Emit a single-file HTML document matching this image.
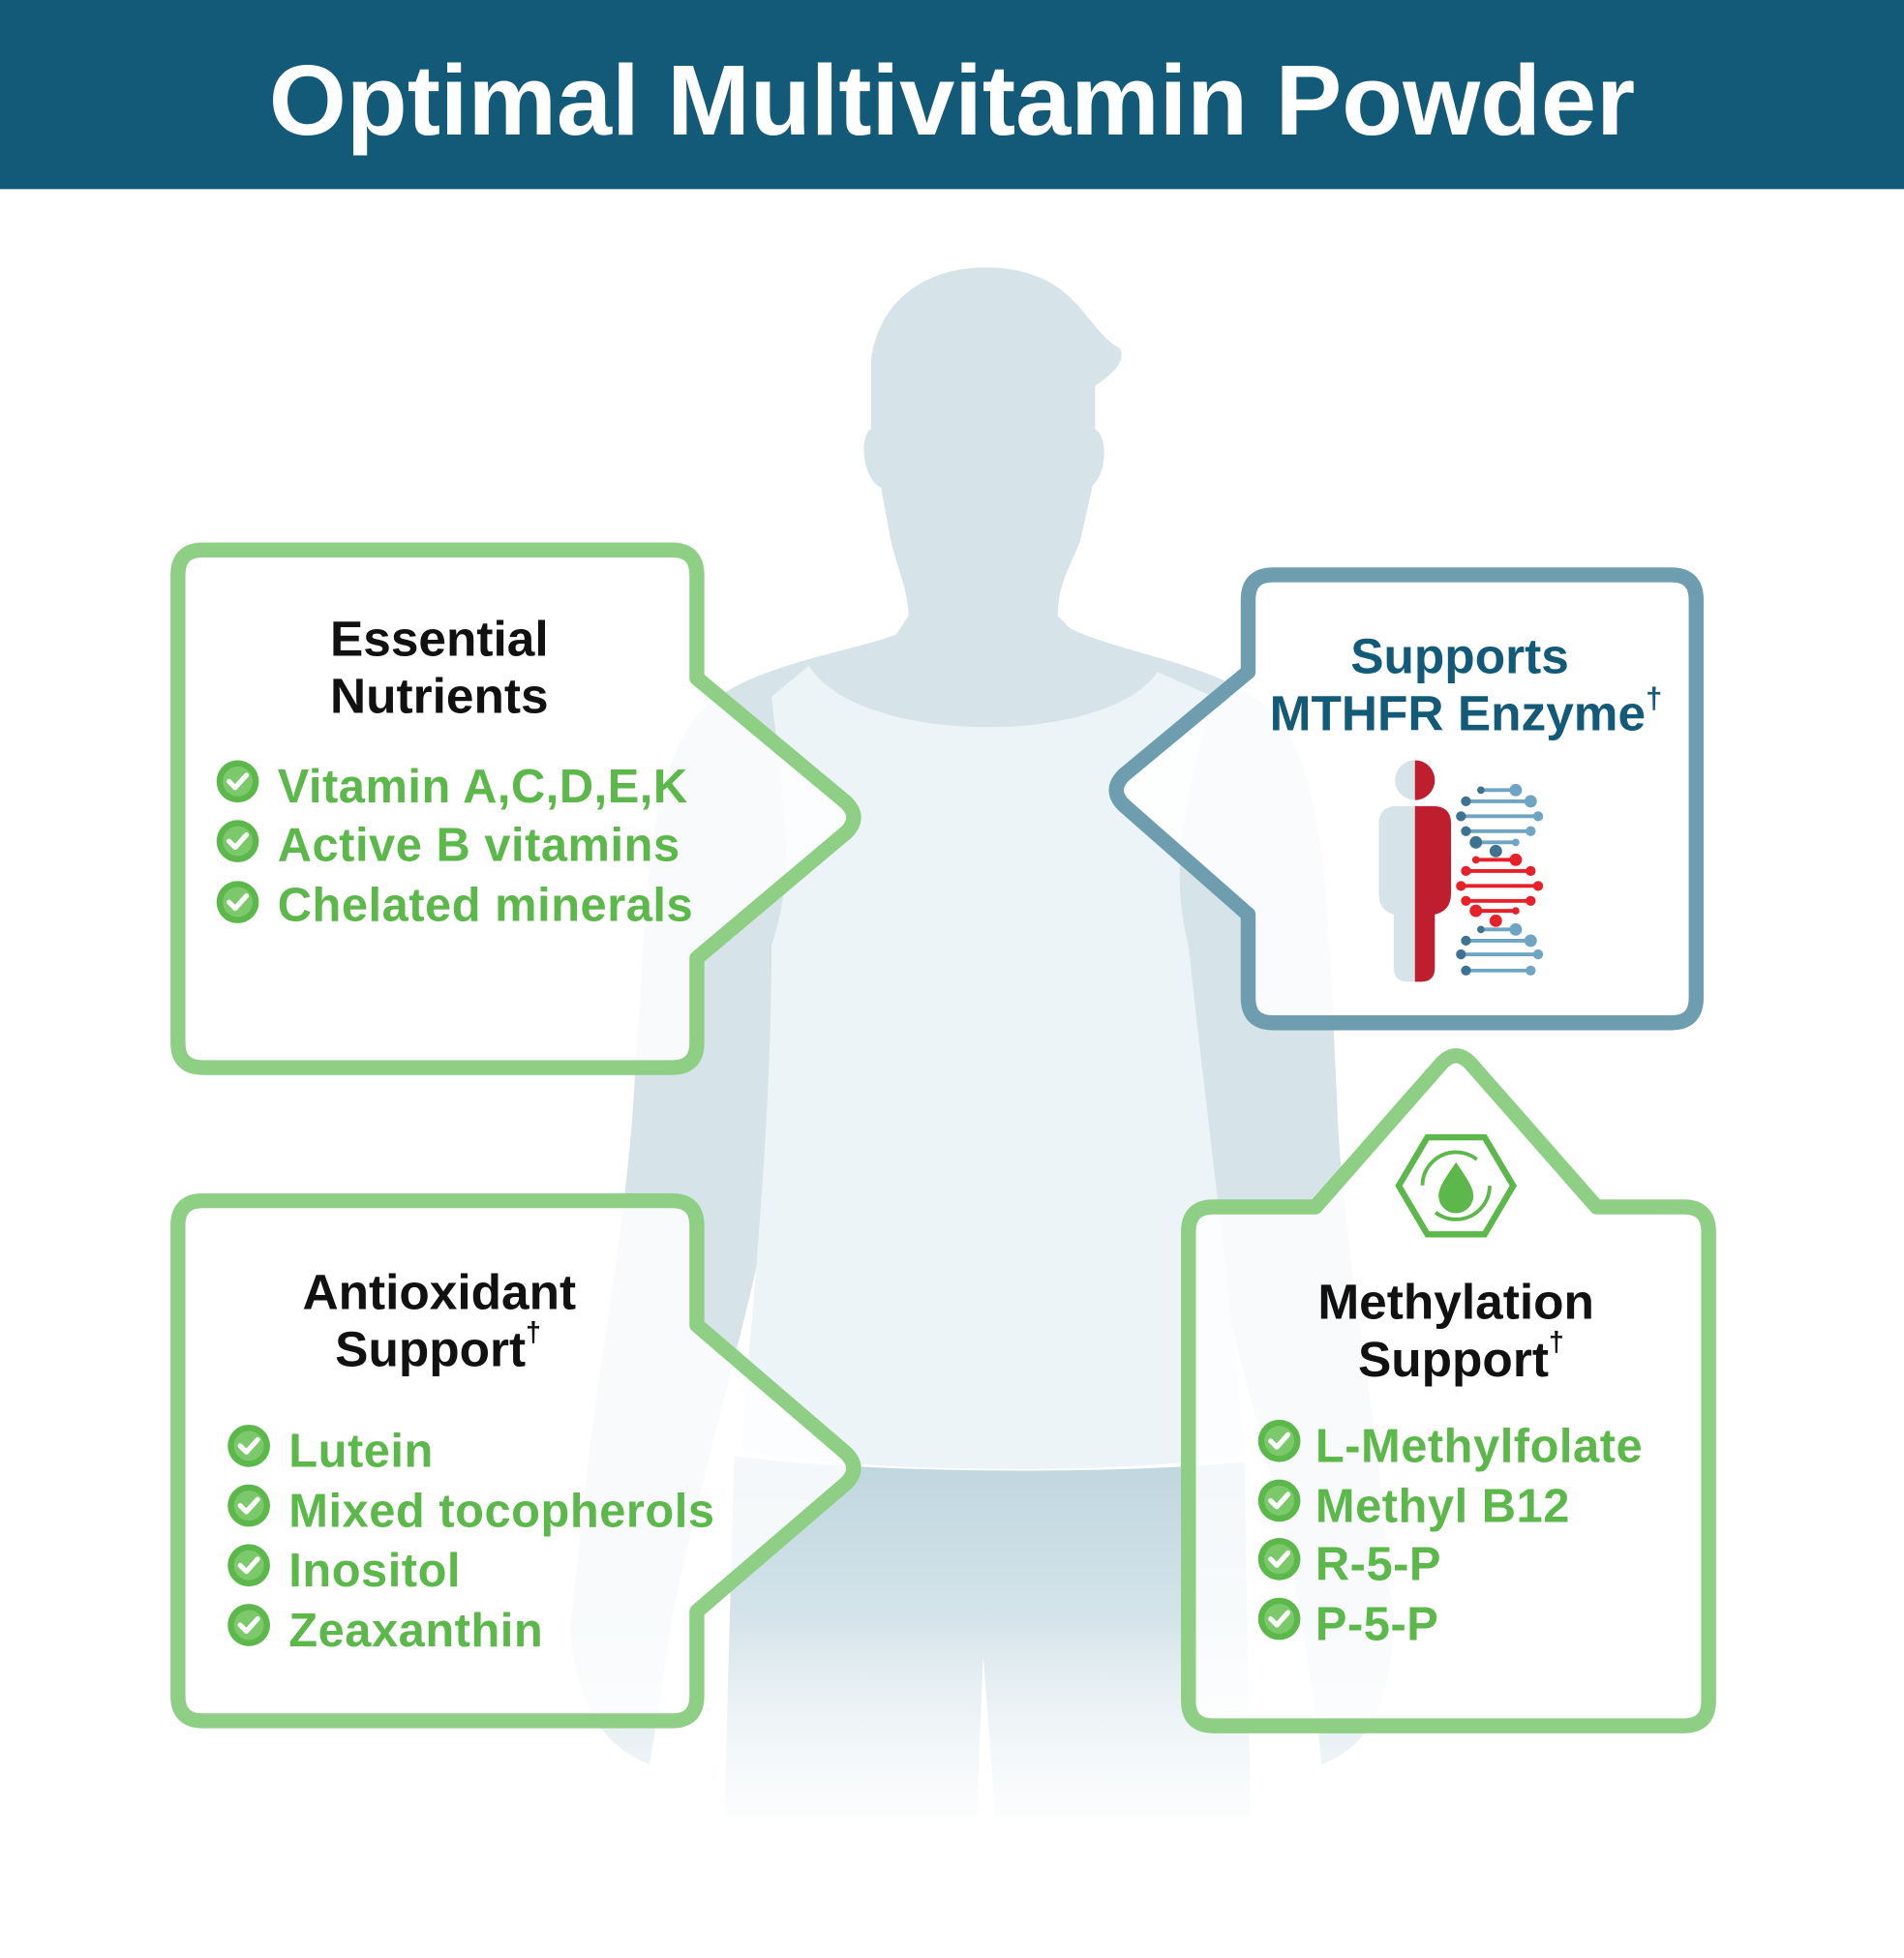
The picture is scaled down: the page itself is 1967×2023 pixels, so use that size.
<!DOCTYPE html>
<html><head><meta charset="utf-8"><style>
html,body{margin:0;padding:0;background:#fff}
svg{display:block}
text{font-family:"Liberation Sans",sans-serif;font-weight:bold}
</style></head><body>
<svg width="1967" height="2023" viewBox="0 0 1530 1573.6" preserveAspectRatio="none" xmlns="http://www.w3.org/2000/svg">
<defs>
<linearGradient id="fade" x1="0" y1="0" x2="0" y2="1">
<stop offset="0" stop-color="#fff" stop-opacity="0"/>
<stop offset="1" stop-color="#fff" stop-opacity="1"/>
</linearGradient>
<linearGradient id="shorts" x1="0" y1="0" x2="0" y2="1">
<stop offset="0" stop-color="#bfd6df"/>
<stop offset="1" stop-color="#eef4f7"/>
</linearGradient>
<g id="chk"><circle r="17" fill="#5cb84a"/><circle r="12" fill="#7cc96c"/><path d="M-7,0 L-2,5 L7,-5" stroke="#fff" stroke-width="4" fill="none" stroke-linecap="round" stroke-linejoin="round"/></g>
</defs>
<rect width="1530" height="1573.6" fill="#fff"/>
<rect width="1530" height="152" fill="#135a78"/>
<text x="765" y="108" font-size="80" fill="#fff" text-anchor="middle">Optimal Multivitamin Powder</text>

<g fill="#d6e4ea">
<path d="M792,215 C740,215 705,245 700,290 L700,345 C690,350 693,385 708,392 L716,435 C722,460 730,475 730,495 L720,510 C680,525 600,535 565,570 C525,610 520,700 515,790 L508,900 C500,1000 480,1100 470,1200 L458,1310 C465,1380 490,1405 522,1418 L528,1380 L540,1300 C560,1200 590,1100 612,1000 L975,1000 C995,1100 1030,1200 1045,1300 L1058,1380 L1062,1418 C1095,1405 1115,1380 1120,1310 L1110,1200 C1100,1100 1080,1000 1075,900 L1070,790 C1065,700 1060,610 1020,570 C985,535 900,525 860,505 L850,495 C850,470 860,455 868,435 L878,390 C890,380 890,350 880,345 L880,310 C895,300 905,290 900,280 C880,270 870,240 840,225 C825,218 810,215 792,215 Z"/>
</g>
<path d="M650,535 C690,600 890,600 930,540 L975,560 C950,650 940,700 955,760 C970,900 990,1050 1000,1170 C900,1185 690,1185 595,1165 C605,1050 620,900 620,760 C640,700 630,650 620,560 Z" fill="#edf4f7"/>
<path d="M590,1170 C700,1185 900,1185 1000,1175 L1005,1460 L800,1460 L790,1330 L785,1460 L582,1460 Z" fill="url(#shorts)"/>
<rect x="400" y="1300" width="800" height="200" fill="url(#fade)"/>

<g fill="#fff" fill-opacity="0.82" stroke="#8ecf85" stroke-width="12" stroke-linejoin="round">
<path d="M163,442 L540,442 Q560,442 560,462 L560,545 L680,645 Q692,657 680,669 L560,770 L560,838 Q560,858 540,858 L163,858 Q143,858 143,838 L143,462 Q143,442 163,442 Z"/>
<path d="M163,965 L540,965 Q560,965 560,985 L560,1065 L680,1168 Q692,1180 680,1192 L560,1295 L560,1363 Q560,1383 540,1383 L163,1383 Q143,1383 143,1363 L143,985 Q143,965 163,965 Z"/>
<path d="M975,970 L1057,970 L1158,855 Q1170,842 1182,855 L1283,970 L1353,970 Q1373,970 1373,990 L1373,1367 Q1373,1387 1353,1387 L975,1387 Q955,1387 955,1367 L955,990 Q955,970 975,970 Z"/>
</g>
<path d="M1023,462 L1343,462 Q1363,462 1363,482 L1363,802 Q1363,822 1343,822 L1023,822 Q1003,822 1003,802 L1003,735 L903,647 Q891,635 903,623 L1003,540 L1003,482 Q1003,462 1023,462 Z" fill="#fff" fill-opacity="0.85" stroke="#6e9db0" stroke-width="12" stroke-linejoin="round"/>

<g font-size="40" fill="#111" text-anchor="middle">
<text x="353" y="527">Essential</text><text x="353" y="573">Nutrients</text>
<text x="353" y="1052">Antioxidant</text><text x="352" y="1098">Support<tspan font-size="22" dy="-20">†</tspan></text>
<text x="1170" y="1060">Methylation</text><text x="1174" y="1106">Support<tspan font-size="22" dy="-20">†</tspan></text>
<g fill="#135a78"><text x="1173" y="541">Supports</text><text x="1178" y="587">MTHFR Enzyme<tspan font-size="24" dy="-18">†</tspan></text></g>
</g>
<g font-size="38" fill="#5cb84a" letter-spacing="0.4">
<text x="223" y="645">Vitamin A,C,D,E,K</text>
<text x="223" y="692">Active B vitamins</text>
<text x="223" y="740">Chelated minerals</text>
<text x="232" y="1179">Lutein</text>
<text x="232" y="1227">Mixed tocopherols</text>
<text x="232" y="1275">Inositol</text>
<text x="232" y="1323">Zeaxanthin</text>
<text x="1057" y="1175">L-Methylfolate</text>
<text x="1057" y="1223">Methyl B12</text>
<text x="1057" y="1270">R-5-P</text>
<text x="1057" y="1318">P-5-P</text>
</g>
<use href="#chk" x="191" y="628"/><use href="#chk" x="191" y="676"/><use href="#chk" x="191" y="725"/>
<use href="#chk" x="200" y="1162"/><use href="#chk" x="200" y="1210"/><use href="#chk" x="200" y="1258"/><use href="#chk" x="200" y="1306"/>
<use href="#chk" x="1028" y="1158"/><use href="#chk" x="1028" y="1206"/><use href="#chk" x="1028" y="1253"/><use href="#chk" x="1028" y="1301"/>

<path d="M1137,611 A16,16 0 0 0 1137,643 Z" fill="#d6e4ea"/>
<path d="M1137,611 A16,16 0 0 1 1137,643 Z" fill="#be1e2d"/>
<path d="M1137,648 L1122,648 Q1108,648 1108,662 L1108,718 Q1108,732 1120,735 L1120,778 Q1120,789 1131,789 L1137,789 Z" fill="#d6e4ea"/>
<path d="M1137,648 L1152,648 Q1166,648 1166,662 L1166,718 Q1166,732 1153,735 L1153,778 Q1153,789 1142,789 L1137,789 Z" fill="#be1e2d"/>
<g stroke-width="3">
<g stroke="#6fa5c2"><line x1="1190" y1="635" x2="1218" y2="635"/><line x1="1178" y1="644" x2="1230" y2="644"/><line x1="1174" y1="656" x2="1236" y2="656"/><line x1="1178" y1="668" x2="1230" y2="668"/><line x1="1186" y1="677" x2="1218" y2="677"/>
<line x1="1190" y1="747" x2="1218" y2="747"/><line x1="1178" y1="756" x2="1230" y2="756"/><line x1="1174" y1="767" x2="1236" y2="767"/><line x1="1178" y1="780" x2="1230" y2="780"/></g>
<g stroke="#e8202a"><line x1="1186" y1="691" x2="1218" y2="691"/><line x1="1178" y1="700" x2="1230" y2="700"/><line x1="1174" y1="712" x2="1236" y2="712"/><line x1="1178" y1="724" x2="1230" y2="724"/><line x1="1186" y1="732" x2="1218" y2="732"/></g>
</g>
<g fill="#3d7391"><circle cx="1190" cy="635" r="3"/><circle cx="1178" cy="644" r="4"/><circle cx="1174" cy="656" r="4"/><circle cx="1178" cy="668" r="4"/><circle cx="1186" cy="677" r="5"/><circle cx="1202" cy="684" r="5"/><circle cx="1190" cy="747" r="3"/><circle cx="1178" cy="756" r="4"/><circle cx="1174" cy="767" r="4"/><circle cx="1178" cy="780" r="4"/></g>
<g fill="#6fa5c2"><circle cx="1218" cy="635" r="5"/><circle cx="1230" cy="644" r="5"/><circle cx="1236" cy="656" r="4"/><circle cx="1230" cy="668" r="4"/><circle cx="1218" cy="677" r="3"/><circle cx="1218" cy="747" r="5"/><circle cx="1230" cy="756" r="5"/><circle cx="1236" cy="767" r="4"/><circle cx="1230" cy="780" r="4"/></g>
<g fill="#e8202a"><circle cx="1186" cy="691" r="3"/><circle cx="1218" cy="691" r="5"/><circle cx="1178" cy="700" r="4"/><circle cx="1230" cy="700" r="4"/><circle cx="1174" cy="712" r="4"/><circle cx="1236" cy="712" r="4"/><circle cx="1178" cy="724" r="4"/><circle cx="1230" cy="724" r="4"/><circle cx="1186" cy="732" r="5"/><circle cx="1218" cy="732" r="3"/><circle cx="1202" cy="740" r="5"/></g>

<path d="M1147,914 L1193,914 L1216,953 L1193,992 L1147,992 L1124,953 Z" fill="#fff" stroke="#5cb84a" stroke-width="5"/>
<circle cx="1170" cy="953" r="27" fill="none" stroke="#5cb84a" stroke-width="3" stroke-dasharray="60 25"/>
<path d="M1170,934 C1162,946 1156,954 1156,961 A14,14 0 0 0 1184,961 C1184,954 1178,946 1170,934 Z" fill="#5cb84a"/>
</svg>
</body></html>
